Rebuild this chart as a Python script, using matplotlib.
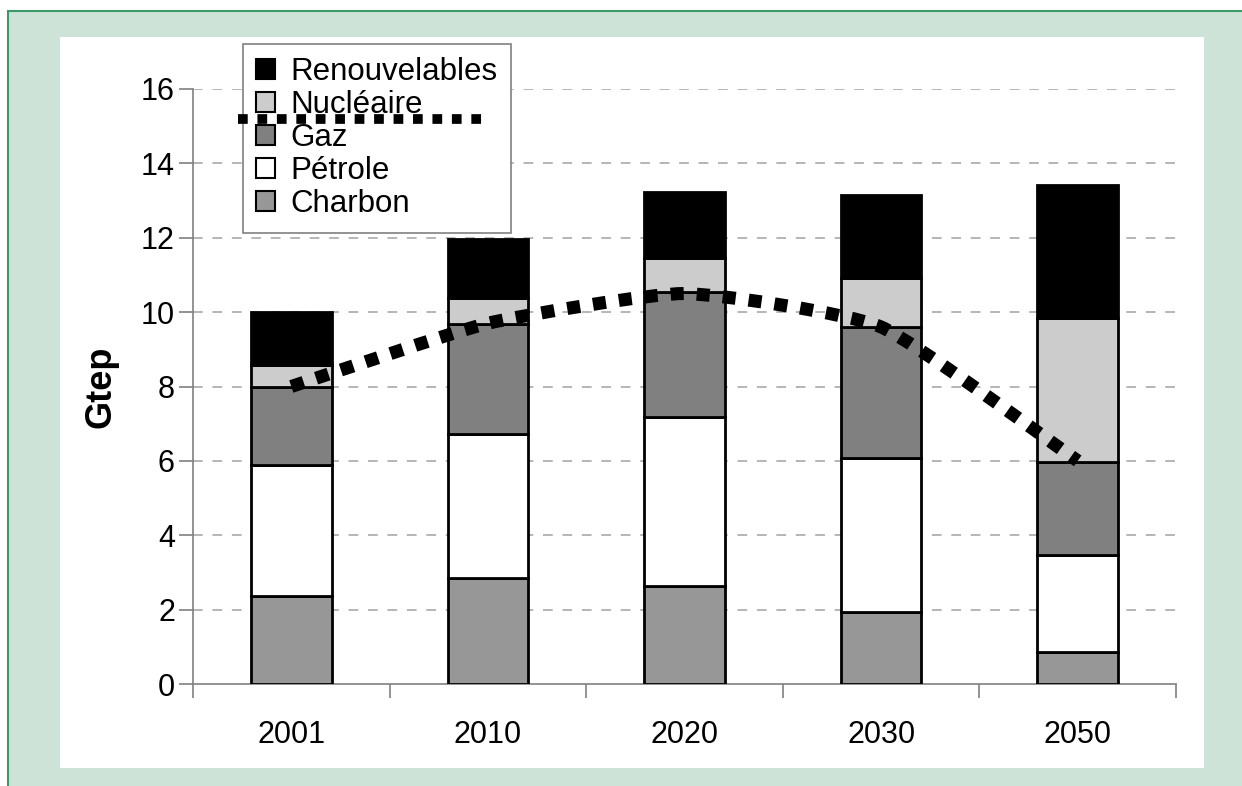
import matplotlib.pyplot as plt
from matplotlib.patches import Patch, Rectangle, PathPatch
from matplotlib.path import Path
from matplotlib.lines import Line2D

plt.rcParams['font.family'] = ['Liberation Sans', 'DejaVu Sans']

years = ['2001', '2010', '2020', '2030', '2050']
charbon = [2.37, 2.85, 2.64, 1.94, 0.86]
petrole = [3.52, 3.87, 4.54, 4.14, 2.61]
gaz = [2.10, 2.96, 3.36, 3.52, 2.50]
nucleaire = [0.59, 0.70, 0.91, 1.32, 3.87]
renouvelables = [1.42, 1.59, 1.78, 2.23, 3.58]
# courbe pointillée (total fossile)
fossile = [8.0, 9.7, 10.5, 9.6, 6.0]

series = [
    ('Charbon', charbon, '#979797'),
    ('Pétrole', petrole, '#ffffff'),
    ('Gaz', gaz, '#808080'),
    ('Nucléaire', nucleaire, '#cccccc'),
    ('Renouvelables', renouvelables, '#000000'),
]

fig = plt.figure(figsize=(12.42, 7.86), dpi=100)
fig.patch.set_facecolor('white')

# cadre vert + fond blanc
W, H = 1242, 786
fig.patches.append(Rectangle((8 / W, -1), 2, 2 - 11 / H, transform=fig.transFigure,
                             facecolor='#cee3d7', edgecolor='#3c9a68', lw=1.5, zorder=-2))
fig.patches.append(Rectangle((60 / W, 1 - 768 / H), (1204 - 60) / W, (768 - 37) / H,
                             transform=fig.transFigure, facecolor='white',
                             edgecolor='none', zorder=-1))

ax = fig.add_axes([193 / W, 1 - 684 / H, (1176 - 193) / W, (684 - 89) / H])
ax.set_facecolor('none')

x = list(range(len(years)))
bottom = [0] * len(years)
for name, vals, color in series:
    ax.bar(x, vals, width=0.41, bottom=bottom, color=color, edgecolor='black',
           linewidth=2, label=name, zorder=3)
    bottom = [b + v for b, v in zip(bottom, vals)]

# courbe lissée (Catmull-Rom -> Bézier, tension réduite)
k = 1 / 12
pts = list(zip(x, fossile))
verts = [pts[0]]
codes = [Path.MOVETO]
for i in range(len(pts) - 1):
    p0 = pts[i - 1] if i > 0 else pts[i]
    p1 = pts[i]
    p2 = pts[i + 1]
    p3 = pts[i + 2] if i + 2 < len(pts) else pts[i + 1]
    c1 = (p1[0] + (p2[0] - p0[0]) * k, p1[1] + (p2[1] - p0[1]) * k)
    c2 = (p2[0] - (p3[0] - p1[0]) * k, p2[1] - (p3[1] - p1[1]) * k)
    verts += [c1, c2, p2]
    codes += [Path.CURVE4] * 3
curve = PathPatch(Path(verts, codes), facecolor='none', edgecolor='black',
                  lw=9.4, linestyle=(0, (1, 1)), capstyle='butt', zorder=5)
ax.add_patch(curve)

ax.set_xlim(-0.5, len(years) - 0.5)
ax.set_ylim(0, 16)
ax.set_yticks(range(0, 17, 2))
ax.grid(axis='y', color='#b5b5b5', linestyle=(0, (5, 5)), linewidth=1.4, zorder=1)
ax.yaxis.get_gridlines()[0].set_visible(False)

ax.set_xticks([i + 0.5 for i in range(-1, len(years))])
ax.set_xticklabels([])
ax.set_xticks(x, minor=True)
ax.set_xticklabels(years, minor=True)
ax.tick_params(axis='x', which='major', length=10, width=1.2, color='#808080', direction='out')
ax.tick_params(axis='x', which='minor', length=0, pad=26, labelsize=22)
ax.tick_params(axis='y', length=10, width=1.2, color='#808080', pad=3, labelsize=22)

for s in ['top', 'right']:
    ax.spines[s].set_visible(False)
for s in ['left', 'bottom']:
    ax.spines[s].set_color('#808080')
    ax.spines[s].set_linewidth(1.2)

ax.set_ylabel('Gtep', fontsize=26, fontweight='bold')
ax.yaxis.set_label_coords(-0.076, 0.5)

handles = [Patch(facecolor=c, edgecolor='black', linewidth=1.5, label=n)
           for n, _, c in series][::-1]
leg = ax.legend(handles=handles, loc='upper left', bbox_to_anchor=(0.051, 1.076),
                borderaxespad=0, fontsize=22.5, handlelength=0.6, handleheight=0.6,
                handletextpad=0.5, labelspacing=0.1, borderpad=0.42,
                fancybox=False, framealpha=1, edgecolor='#808080')
leg.get_frame().set_linewidth(1.2)
leg.set_zorder(6)

# trait pointillé de la légende
ax.add_line(Line2D([0.046, 0.299], [15.19 / 16, 15.19 / 16], transform=ax.transAxes,
                   color='black', lw=7, linestyle=(0, (1, 1)),
                   solid_capstyle='butt', dash_capstyle='butt', clip_on=False, zorder=7))

fig.savefig('out.png', dpi=100)
